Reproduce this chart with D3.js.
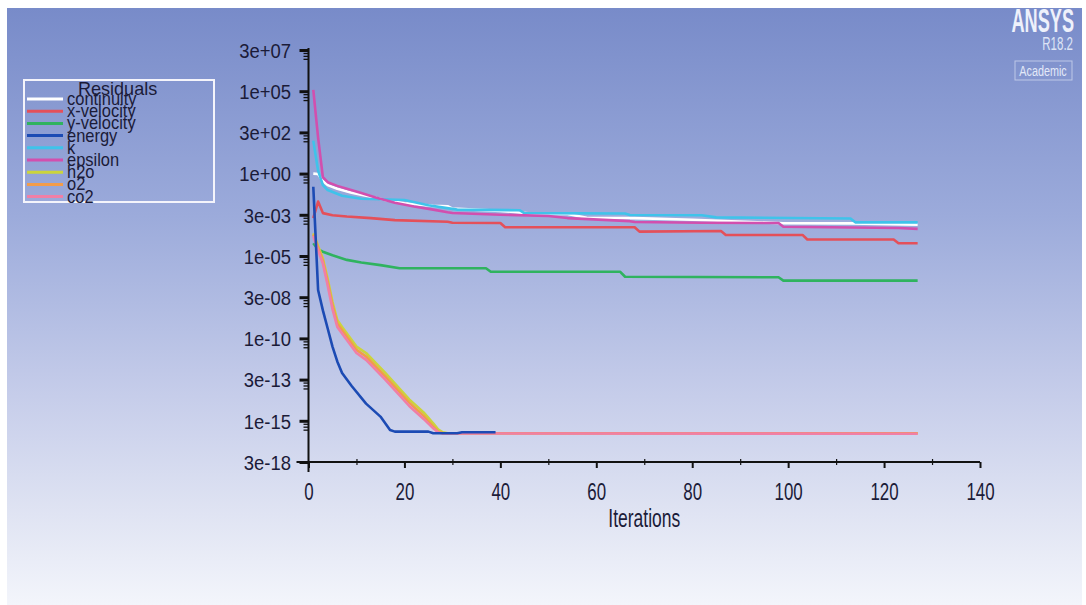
<!DOCTYPE html>
<html>
<head>
<meta charset="utf-8">
<script src="https://cdn.jsdelivr.net/npm/d3@7"></script>
<style>
  html, body { margin: 0; padding: 0; background: #ffffff; }
  svg { display: block; }
</style>
</head>
<body>
<svg id="chart" width="1086" height="605"></svg>
<script>
// ---- axis ticks ----
const iterTicks = [0, 20, 40, 60, 80, 100, 120, 140];
const iterMinorTicks = [10, 30, 50, 70, 90, 110, 130];
const yTickValues = [3.162e-18, 1e-15, 3.162e-13, 1e-10, 3.162e-8, 1e-5, 3.162e-3, 1, 316.2, 1e5, 3.162e7];
const yTickLabels = ["3e-18", "1e-15", "3e-13", "1e-10", "3e-08", "1e-05", "3e-03", "1e+00", "3e+02", "1e+05", "3e+07"];

// ---- residual series: [iteration, residual] ----
const seriesNames = ["continuity", "x-velocity", "y-velocity", "energy", "k", "epsilon", "h2o", "o2", "co2"];
const seriesColors = ["#ffffff", "#e4505a", "#2fb35f", "#1c4bb4", "#3fc3ea", "#d24fae", "#cbd43c", "#f29c4a", "#f07fa6"];

const continuity = [[1,1],[2,0.95],[3,0.35],[4,0.2],[6,0.12],[9,0.07],[12,0.045],[16,0.025],[20,0.016],[26,0.011],[29,0.0105],[30,0.0075],[40,0.0055],[47,0.0036],[54,0.0035],[58,0.0021],[68,0.002],[80,0.0016],[99,0.00097],[113,0.00095],[127,0.0008]];
const xVelocity = [[1,0.002],[2,0.02],[3,0.004],[5,0.003],[8,0.0025],[13,0.002],[18,0.0015],[29,0.0012],[30,0.00105],[40,0.001],[41,0.00055],[68,0.00055],[69,0.0003],[86,0.00033],[87,0.00019],[103,0.00019],[104,0.0001],[122,0.0001],[123,0.000059],[127,0.000059]];
const yVelocity = [[1,6e-5],[2,2.5e-5],[3,1.8e-5],[5,1.1e-5],[8,5.8e-6],[11,4e-6],[15,2.8e-6],[19,1.8e-6],[37,1.8e-6],[38,1.1e-6],[65,1.1e-6],[66,5.5e-7],[98,5.1e-7],[99,3.2e-7],[127,3.2e-7]];
const energy = [[1,0.16],[2,8.7e-8],[3,5e-9],[4,4e-10],[5,3.2e-11],[6,4e-12],[7,8e-13],[9,1.3e-13],[12,1.1e-14],[15,1.8e-15],[17,2.8e-16],[18,2.2e-16],[25,2.2e-16],[26,1.75e-16],[31,1.75e-16],[32,2e-16],[39,2e-16]];
const kRes = [[1,100],[2,1.5],[3,0.2],[4,0.1],[7,0.045],[11,0.03],[15,0.028],[20,0.025],[25,0.012],[31,0.0065],[44,0.006],[45,0.004],[66,0.0038],[67,0.0031],[82,0.003],[85,0.0022],[113,0.0019],[114,0.0011],[127,0.0011]];
const epsilon = [[1,1.2e5],[2,150],[3,0.6],[4,0.3],[6,0.18],[8,0.12],[11,0.066],[14,0.035],[18,0.017],[22,0.01],[26,0.0065],[29,0.0045],[30,0.0041],[40,0.0032],[50,0.0027],[54,0.002],[67,0.0013],[68,0.00115],[82,0.00105],[98,0.001],[99,0.0006],[123,0.0005],[127,0.00044]];
const h2o = [[1,2.4e-4],[2,4e-5],[3,7e-6],[4,4e-7],[5,1.6e-8],[6,1.3e-9],[7,5e-10],[10,3.2e-11],[12,1.3e-11],[16,8e-13],[21,2e-14],[24,3.2e-15],[26,7e-16],[27,3e-16],[28,2e-16],[29,1.75e-16],[127,1.75e-16]];
const o2 = [[1,2e-4],[2,3.2e-5],[3,5e-6],[4,2.5e-7],[5,1e-8],[6,8e-10],[7,3.2e-10],[10,2e-11],[12,8e-12],[16,5e-13],[21,1.26e-14],[24,2e-15],[26,4.5e-16],[27,2.2e-16],[28,1.75e-16],[127,1.75e-16]];
const co2 = [[1,1.6e-4],[2,2.2e-5],[3,3.5e-6],[4,1.6e-7],[5,6e-9],[6,5e-10],[7,2e-10],[10,1.3e-11],[12,5e-12],[16,3.2e-13],[21,8e-15],[24,1.3e-15],[26,3.5e-16],[27,2e-16],[28,1.7e-16],[127,1.65e-16]];

const seriesData = [continuity, xVelocity, yVelocity, energy, kRes, epsilon, h2o, o2, co2];

// ---- layout ----
const W = 1086, H = 605;
const plot = { left: 308.5, right: 980, top: 50, bottom: 462 };
const textColor = "#1b1b38";
const fontFamily = "'Liberation Sans', Arial, sans-serif";

const svg = d3.select("#chart");
const defs = svg.append("defs");

// window background gradient
const grad = defs.append("linearGradient")
  .attr("id", "bg").attr("x1", 0).attr("y1", 0).attr("x2", 0).attr("y2", 1);
[[0, "#788bc9"], [0.35, "#9cabdb"], [0.65, "#c6cdea"], [0.85, "#e0e4f3"], [1, "#f3f5fb"]]
  .forEach(([o, c]) => grad.append("stop").attr("offset", o).attr("stop-color", c));

svg.append("rect").attr("width", W).attr("height", H).attr("fill", "#ffffff");
svg.append("rect").attr("x", 7).attr("y", 8).attr("width", 1075).attr("height", 597).attr("fill", "url(#bg)");

// ---- scales ----
const x = d3.scaleLinear().domain([0, 140]).range([plot.left, plot.right]);
const y = d3.scaleLog()
  .domain([yTickValues[0], yTickValues[yTickValues.length - 1]])
  .range([plot.bottom, plot.top]);

// ---- residual curves ----
const line = d3.line().x(d => x(d[0])).y(d => y(d[1]));
const drawOrder = [0, 1, 2, 4, 5, 6, 7, 8, 3];
const curves = svg.append("g").attr("fill", "none").attr("stroke-width", 2.6)
  .attr("stroke-linejoin", "round").attr("stroke-linecap", "butt");
drawOrder.forEach(i => {
  curves.append("path")
    .attr("d", line(seriesData[i]))
    .attr("stroke", seriesColors[i]);
});

// ---- y axis (log) ----
const sxY = 0.9;
const gy = svg.append("g").attr("transform", `translate(${plot.left},0)`)
  .call(d3.axisLeft(y).tickValues(yTickValues).tickFormat((d, i) => yTickLabels[i]).tickSize(9));
gy.select(".domain").remove();
gy.selectAll(".tick line").attr("stroke", "#111").attr("stroke-width", 3);
gy.selectAll(".tick text")
  .attr("fill", textColor).attr("font-family", fontFamily).attr("font-size", 20.5)
  .attr("x", -17.5 / sxY).attr("dy", "0.36em")
  .attr("transform", `scale(${sxY},1)`);

// small ladder ticks just below each labelled tick
const minorFactors = [0.66, 0.44, 0.29];
const yMinor = yTickValues.slice(1).flatMap(v => minorFactors.map(f => v * f));
const gyMinor = svg.append("g").attr("transform", `translate(${plot.left},0)`)
  .call(d3.axisLeft(y).tickValues(yMinor).tickFormat("").tickSize(5));
gyMinor.select(".domain").remove();
gyMinor.selectAll(".tick line").attr("stroke", "#111").attr("stroke-width", 1.3);

svg.append("line")
  .attr("x1", plot.left).attr("x2", plot.left)
  .attr("y1", plot.top - 2).attr("y2", plot.bottom + 10)
  .attr("stroke", "#111").attr("stroke-width", 2);

// ---- x axis ----
const sxX = 0.72;
const gx = svg.append("g").attr("transform", `translate(0,${plot.bottom})`)
  .call(d3.axisBottom(x).tickValues(iterTicks).tickFormat(d3.format("d")).tickSize(6));
gx.select(".domain").remove();
gx.selectAll(".tick line").attr("stroke", "#111").attr("stroke-width", 2);
gx.selectAll(".tick text")
  .attr("fill", textColor).attr("font-family", fontFamily).attr("font-size", 23.5)
  .attr("y", 21).attr("transform", `scale(${sxX},1)`);

const gxMinor = svg.append("g").attr("transform", `translate(0,${plot.bottom - 3})`)
  .call(d3.axisBottom(x).tickValues(iterMinorTicks).tickFormat("").tickSize(6));
gxMinor.select(".domain").remove();
gxMinor.selectAll(".tick line").attr("stroke", "#111").attr("stroke-width", 1.2);

svg.append("line")
  .attr("x1", plot.left - 12).attr("x2", plot.right)
  .attr("y1", plot.bottom).attr("y2", plot.bottom)
  .attr("stroke", "#111").attr("stroke-width", 2);

svg.append("text")
  .attr("transform", `translate(${(plot.left + plot.right) / 2},527) scale(0.7,1)`)
  .attr("text-anchor", "middle")
  .attr("fill", textColor).attr("font-family", fontFamily).attr("font-size", 25)
  .text("Iterations");

// ---- legend ----
const legend = svg.append("g").attr("transform", "translate(24,80)");
legend.append("rect").attr("width", 190).attr("height", 122)
  .attr("fill", "none").attr("stroke", "#f4f4fb").attr("stroke-width", 2);
legend.append("text")
  .attr("transform", "translate(54,15) scale(0.95,1)")
  .attr("fill", textColor).attr("font-family", fontFamily).attr("font-size", 19)
  .text("Residuals");
seriesNames.forEach((name, i) => {
  const ly = 19 + i * 12.2;
  legend.append("line").attr("x1", 3).attr("x2", 39).attr("y1", ly).attr("y2", ly)
    .attr("stroke", seriesColors[i]).attr("stroke-width", 3);
  legend.append("text")
    .attr("transform", `translate(43,${ly + 6}) scale(1.03,1.1)`)
    .attr("fill", textColor).attr("font-family", fontFamily).attr("font-size", 16)
    .text(name);
});

// ---- product badge ----
const badge = svg.append("g").attr("fill", "#eef1fb").attr("font-family", fontFamily);
badge.append("text").attr("transform", "translate(1074,32) scale(0.55,1)")
  .attr("text-anchor", "end").attr("font-size", 33).attr("font-weight", "bold").text("ANSYS");
badge.append("text").attr("transform", "translate(1073,50) scale(0.64,1)")
  .attr("text-anchor", "end").attr("font-size", 18).attr("fill", "#dde4f6").text("R18.2");
badge.append("rect").attr("x", 1015).attr("y", 61).attr("width", 57).attr("height", 19)
  .attr("fill", "none").attr("stroke", "#e6ebf8").attr("stroke-opacity", 0.6).attr("stroke-width", 1);
badge.append("text").attr("transform", "translate(1043,76) scale(0.72,1)")
  .attr("text-anchor", "middle").attr("font-size", 15).attr("fill", "#e3e9f8").text("Academic");
</script>
</body>
</html>
